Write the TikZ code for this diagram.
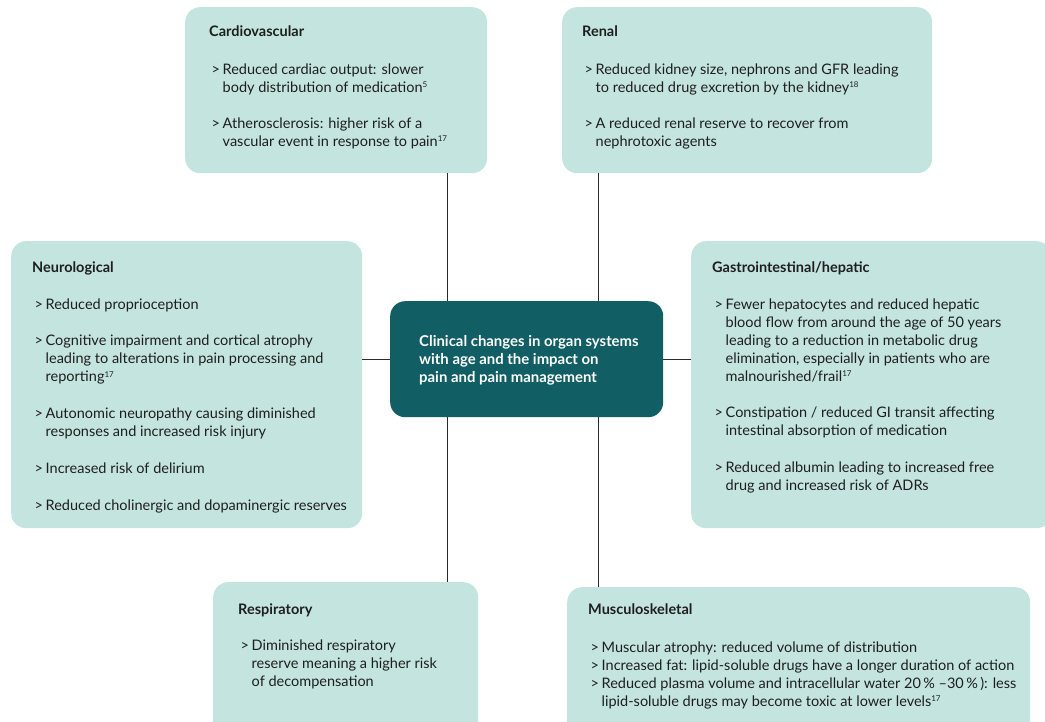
\documentclass[tikz,border=0pt]{standalone}
\usepackage{fontspec}
\setmainfont{Lato}
\definecolor{boxfill}{HTML}{C4E4E0}
\definecolor{hubfill}{HTML}{115E65}
\definecolor{ink}{HTML}{1E1E1E}
\definecolor{linec}{HTML}{2A2A2A}
\newcommand\sups[1]{\raisebox{4.5pt}{\fontsize{8}{8}\selectfont #1}}
\newcommand\bl{\hspace*{2.5pt}\makebox[11pt][l]{>}}
\newcommand\ind{\hspace*{13.5pt}}
\begin{document}
\begin{tikzpicture}[x=1pt,y=-1pt,
  organ/.style={draw=none, fill=boxfill, rounded corners=15pt, inner sep=0, anchor=north west},
  hubbox/.style={draw=none, fill=hubfill, rounded corners=15pt, inner sep=0, anchor=north west},
  txt/.style={anchor=north west, inner sep=0, align=left, text=ink, font=\fontsize{14.5}{18}\selectfont},
  hubtxt/.style={anchor=north west, inner sep=0, align=left, text=white, font=\bfseries\fontsize{14.9}{18}\selectfont},
  conn/.style={draw=linec, line width=1pt}]
\useasboundingbox (0,0) rectangle (1045,722);

% boxes
\node[organ, minimum width=302pt, minimum height=166pt] (cv) at (185,7) {};
\node[organ, minimum width=370pt, minimum height=166pt] (renal) at (562,7) {};
\node[organ, minimum width=351pt, minimum height=287pt] (neuro) at (11,241) {};
\node[organ, minimum width=360pt, minimum height=287pt] (gi) at (691,241) {};
\node[hubbox, minimum width=273pt, minimum height=116pt] (hub) at (390,301) {};
\node[organ, minimum width=265pt, minimum height=160pt] (resp) at (213,582) {};
\node[organ, minimum width=463pt, minimum height=160pt] (msk) at (567,587) {};

% connector columns
\coordinate (lx) at (447.5,0);
\coordinate (rx) at (598.5,0);
\draw[conn] (cv.south -| lx) -- (hub.north -| lx);
\draw[conn] (renal.south -| rx) -- (hub.north -| rx);
\draw[conn] (hub.south -| lx) -- (resp.north -| lx);
\draw[conn] (hub.south -| rx) -- (msk.north -| rx);
\draw[conn] (neuro.east |- hub.west) -- (hub.west);
\draw[conn] (hub.east) -- (gi.west |- hub.east);

% texts
\node[txt] (cvt) at (209,23.4) {\strut\textbf{Cardiovascular}\\[20pt]
\bl Reduced cardiac output: slower\\
\ind body distribution of medication\sups{5}\\[18pt]
\bl Atherosclerosis: higher risk of a\\
\ind vascular event in response to pain\sups{17}};

\node[txt] (renalt) at (582,23.4) {\strut\textbf{Renal}\\[20pt]
\bl Reduced kidney size, nephrons and GFR leading\\
\ind to reduced drug excretion by the kidney\sups{18}\\[18pt]
\bl A reduced renal reserve to recover from\\
\ind nephrotoxic agents};

\node[txt] (neurot) at (32,259.4) {\strut\textbf{Neurological}\\[19pt]
\bl Reduced proprioception\\[18.7pt]
\bl Cognitive impairment and cortical atrophy\\
\ind leading to alterations in pain processing and\\
\ind reporting\sups{17}\\[18.7pt]
\bl Autonomic neuropathy causing diminished\\
\ind responses and increased risk injury\\[18.7pt]
\bl Increased risk of delirium\\[18.7pt]
\bl Reduced cholinergic and dopaminergic reserves};

\node[txt] (git) at (712,259.4) {\strut\textbf{Gastrointestinal/hepatic}\\[19pt]
\bl Fewer hepatocytes and reduced hepatic\\
\ind blood flow from around the age of 50 years\\
\ind leading to a reduction in metabolic drug\\
\ind elimination, especially in patients who are\\
\ind malnourished/frail\sups{17}\\[18.7pt]
\bl Constipation / reduced GI transit affecting\\
\ind intestinal absorption of medication\\[18.7pt]
\bl Reduced albumin leading to increased free\\
\ind drug and increased risk of ADRs};

\node[hubtxt] (hubt) at (419,333.4) {\strut Clinical changes in organ systems\\
with age and the impact on\\
pain and pain management};

\node[txt] (respt) at (238,601.4) {\strut\textbf{Respiratory}\\[18pt]
\bl Diminished respiratory\\
\ind reserve meaning a higher risk\\
\ind of decompensation};

\node[txt] (mskt) at (588,601.4) {\strut\textbf{Musculoskeletal}\\[20pt]
\bl Muscular atrophy: reduced volume of distribution\\
\bl Increased fat: lipid-soluble drugs have a longer duration of action\\
\bl Reduced plasma volume and intracellular water 20\,\% --30\,\%\,): less\\
\ind lipid-soluble drugs may become toxic at lower levels\sups{17}};
\end{tikzpicture}
\end{document}
